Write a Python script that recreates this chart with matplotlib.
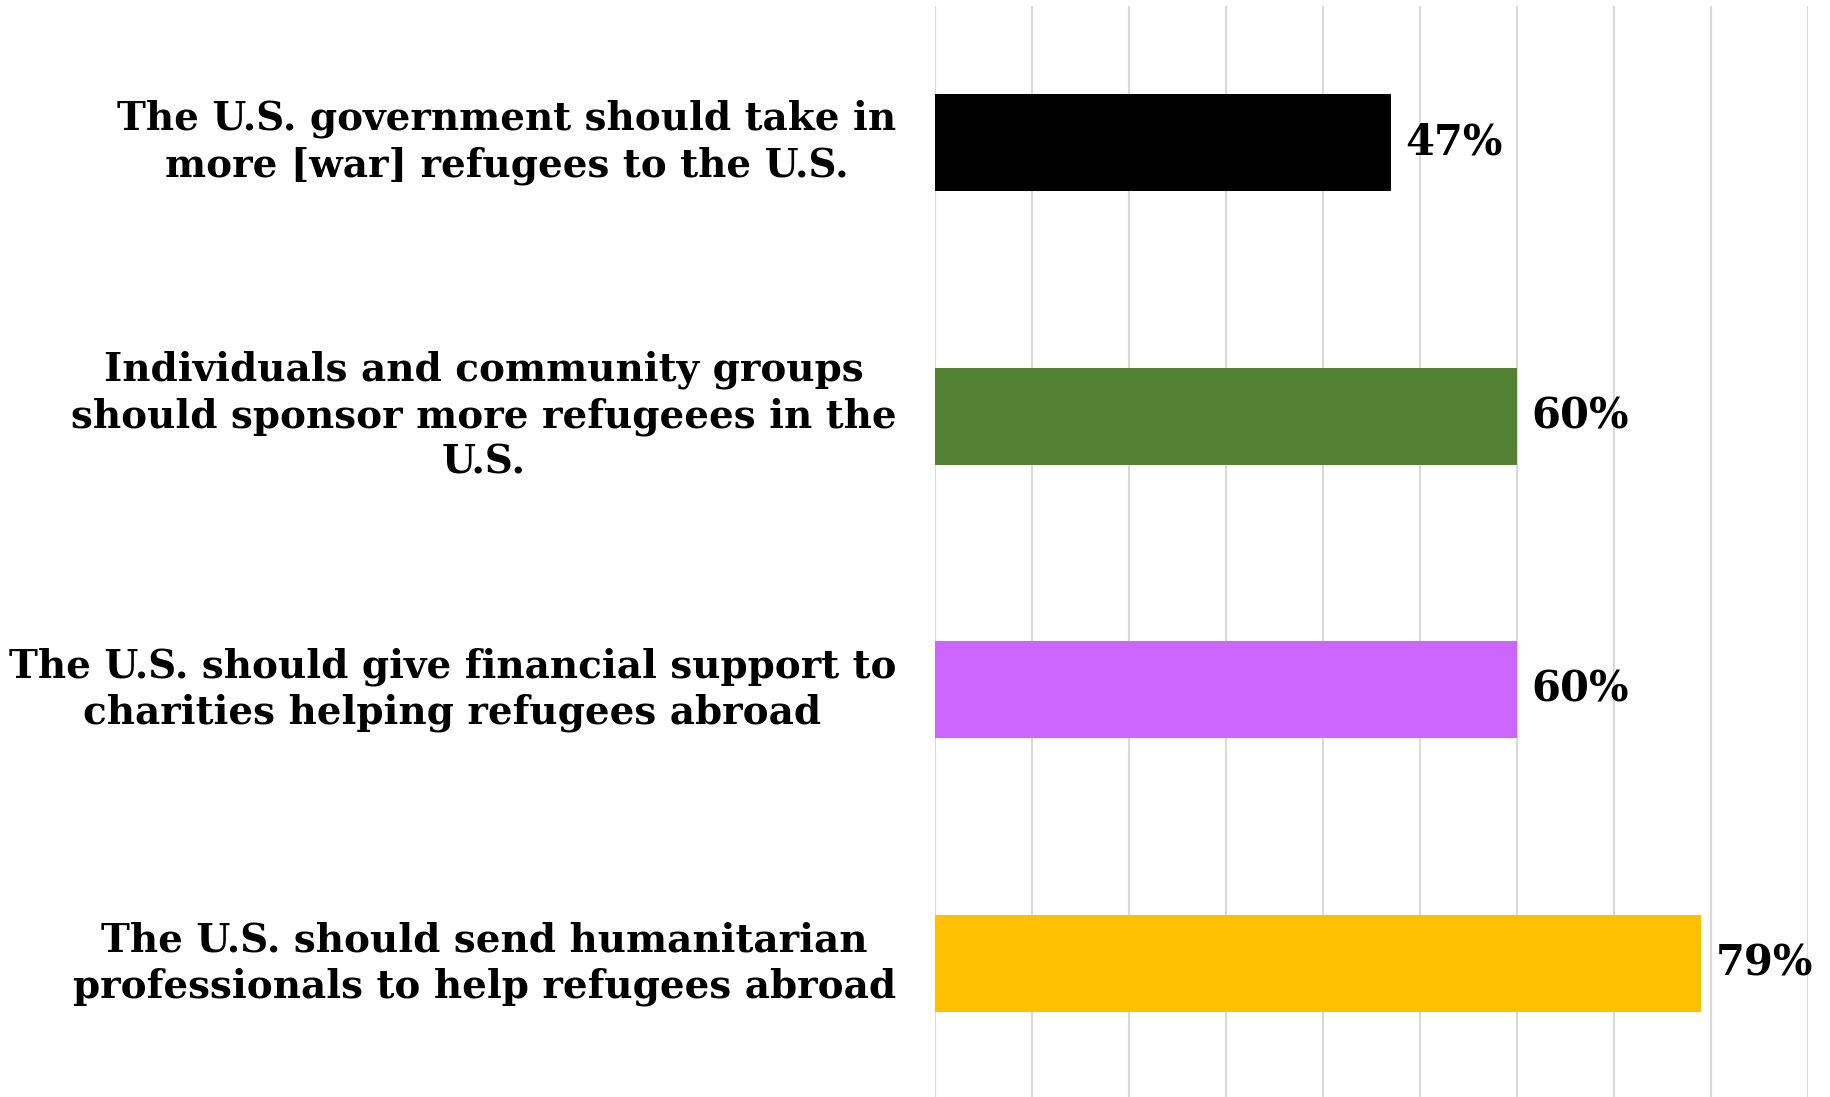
import matplotlib
matplotlib.use("Agg")
import matplotlib.pyplot as plt

# survey statements (top to bottom) and share agreeing
statements = [
    "The U.S. government should take in\nmore [war] refugees to the U.S.",
    "Individuals and community groups\nshould sponsor more refugeees in the\nU.S.",
    "The U.S. should give financial support to\ncharities helping refugees abroad",
    "The U.S. should send humanitarian\nprofessionals to help refugees abroad",
]
shares = [0.47, 0.60, 0.60, 0.79]
value_labels = ["47%", "60%", "60%", "79%"]
bar_colors = ["#000000", "#548235", "#CC66FF", "#FFC000"]
grid_ticks = [0.0, 0.1, 0.2, 0.3, 0.4, 0.5, 0.6, 0.7, 0.8, 0.9]

FONT = "DejaVu Serif"

fig = plt.figure(figsize=(18.31, 10.97), dpi=100)
ax = fig.add_axes([0.5107, -0.0031, 0.4768, 0.998])

y = list(range(len(statements)))
ax.barh(y, shares, height=0.355, color=bar_colors, zorder=3)

ax.set_xlim(0, 0.9)
ax.set_ylim(len(statements) - 0.5, -0.5)
ax.set_xticks(grid_ticks)
ax.xaxis.grid(True, color="#D9D9D9", linewidth=1.5, zorder=0)
ax.tick_params(axis="both", length=0, labelbottom=False, labelleft=False)
for s in ax.spines.values():
    s.set_visible(False)

for yi, txt in zip(y, statements):
    ax.text(-0.04, yi, txt, ha="right", va="center", multialignment="center",
            fontsize=28, fontweight="bold", family=FONT, linespacing=1.27)

for yi, v, lab in zip(y, shares, value_labels):
    ax.text(v + 0.015, yi, lab, ha="left", va="center",
            fontsize=30, fontweight="bold", family=FONT)

fig.savefig("out.png", dpi=100)
